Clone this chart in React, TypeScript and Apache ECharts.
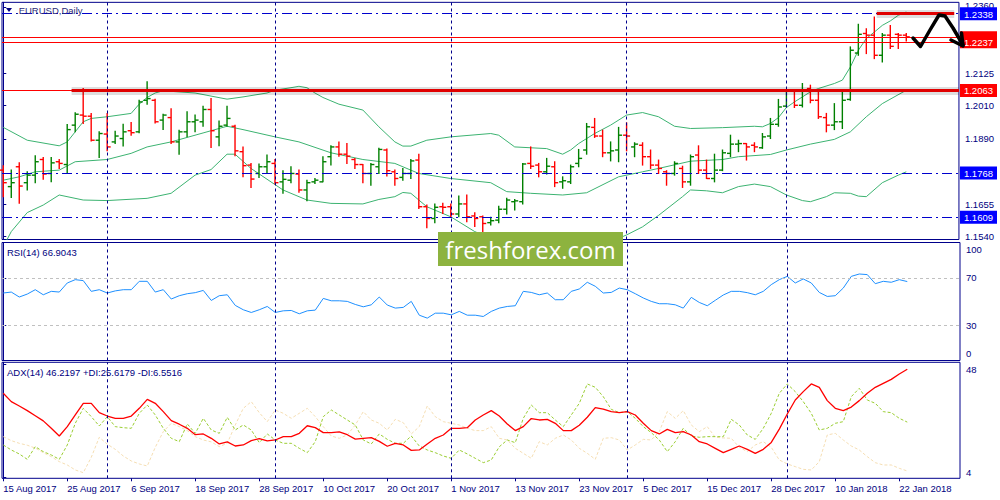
import React, { useEffect, useRef } from "react";
import * as echarts from "echarts";

// ---------- DATA ----------
const tickBars = [0, 8, 16, 24, 32, 40, 48, 56, 64, 72, 80, 88, 96, 104, 112];
const tickLabels = [
  "15 Aug 2017", "25 Aug 2017", "6 Sep 2017", "18 Sep 2017", "28 Sep 2017",
  "10 Oct 2017", "20 Oct 2017", "1 Nov 2017", "13 Nov 2017", "23 Nov 2017",
  "5 Dec 2017", "15 Dec 2017", "28 Dec 2017", "10 Jan 2018", "22 Jan 2018",
];
const monthBars = [13, 34, 56, 78, 98];

const opens = [
  1.1778, 1.1719, 1.1790, 1.1733, 1.1760, 1.1816, 1.1766, 1.1808, 1.1798, 1.1939,
  1.1975, 1.1971, 1.1885, 1.1907, 1.1879, 1.1891, 1.1919, 1.1915, 1.2028, 1.2028,
  1.1957, 1.1966, 1.1879, 1.1915, 1.1951, 1.1951, 1.1995, 1.1897, 1.1939, 1.1935,
  1.1844, 1.1796, 1.1766, 1.1790, 1.1802, 1.1736, 1.1742, 1.1764, 1.1707, 1.1736,
  1.1736, 1.1826, 1.1861, 1.1835, 1.1816, 1.1798, 1.1766, 1.1790, 1.1850, 1.1772,
  1.1752, 1.1766, 1.1814, 1.1647, 1.1605, 1.1647, 1.1647, 1.1621, 1.1657, 1.1614,
  1.1611, 1.1590, 1.1599, 1.1638, 1.1665, 1.1665, 1.1802, 1.1796, 1.1772, 1.1790,
  1.1736, 1.1736, 1.1802, 1.1850, 1.1931, 1.1900, 1.1840, 1.1850, 1.1903, 1.1861,
  1.1867, 1.1826, 1.1796, 1.1772, 1.1766, 1.1784, 1.1736, 1.1832, 1.1778, 1.1748,
  1.1778, 1.1838, 1.1871, 1.1873, 1.1867, 1.1858, 1.1900, 1.1942, 1.2007, 1.2062,
  1.2010, 1.2070, 1.2028, 1.1966, 1.1939, 1.1951, 1.2031, 1.2197, 1.2267, 1.2261,
  1.2189, 1.2261, 1.2264, 1.2261,
];
const highs = [
  1.1794, 1.1778, 1.1804, 1.1772, 1.1829, 1.1823, 1.1823, 1.1816, 1.1941, 1.1983,
  1.2070, 1.1981, 1.1915, 1.1981, 1.1917, 1.1942, 1.1948, 1.2028, 1.2094, 1.2032,
  1.1978, 1.1998, 1.1921, 1.1987, 1.1975, 1.2007, 1.2034, 1.1954, 1.2007, 1.1939,
  1.1861, 1.1802, 1.1800, 1.1832, 1.1816, 1.1776, 1.1790, 1.1778, 1.1742, 1.1748,
  1.1826, 1.1865, 1.1879, 1.1873, 1.1820, 1.1798, 1.1802, 1.1856, 1.1854, 1.1778,
  1.1784, 1.1816, 1.1835, 1.1653, 1.1657, 1.1659, 1.1657, 1.1685, 1.1689, 1.1625,
  1.1614, 1.1609, 1.1649, 1.1677, 1.1673, 1.1802, 1.1861, 1.1802, 1.1820, 1.1808,
  1.1754, 1.1796, 1.1852, 1.1945, 1.1963, 1.1921, 1.1879, 1.1931, 1.1947, 1.1876,
  1.1876, 1.1850, 1.1814, 1.1776, 1.1808, 1.1792, 1.1832, 1.1865, 1.1814, 1.1835,
  1.1850, 1.1903, 1.1885, 1.1873, 1.1876, 1.1909, 1.1963, 1.2031, 1.2066, 1.2064,
  1.2088, 1.2082, 1.2058, 1.1981, 1.2016, 1.2062, 1.2219, 1.2300, 1.2284, 1.2326,
  1.2267, 1.2296, 1.2267, 1.2267,
];
const lows = [
  1.1683, 1.1680, 1.1659, 1.1707, 1.1733, 1.1745, 1.1736, 1.1784, 1.1769, 1.1915,
  1.1945, 1.1882, 1.1823, 1.1847, 1.1873, 1.1864, 1.1903, 1.1912, 1.2014, 1.1947,
  1.1923, 1.1873, 1.1835, 1.1897, 1.1915, 1.1935, 1.1859, 1.1865, 1.1935, 1.1829,
  1.1754, 1.1716, 1.1752, 1.1769, 1.1728, 1.1695, 1.1733, 1.1699, 1.1668, 1.1730,
  1.1736, 1.1796, 1.1828, 1.1802, 1.1784, 1.1733, 1.1724, 1.1766, 1.1757, 1.1724,
  1.1742, 1.1748, 1.1641, 1.1572, 1.1590, 1.1623, 1.1611, 1.1611, 1.1593, 1.1576,
  1.1558, 1.1582, 1.1590, 1.1621, 1.1635, 1.1657, 1.1784, 1.1754, 1.1764, 1.1719,
  1.1713, 1.1730, 1.1790, 1.1835, 1.1895, 1.1826, 1.1811, 1.1808, 1.1847, 1.1826,
  1.1796, 1.1784, 1.1766, 1.1724, 1.1760, 1.1716, 1.1724, 1.1766, 1.1748, 1.1736,
  1.1776, 1.1826, 1.1844, 1.1814, 1.1844, 1.1856, 1.1891, 1.1935, 1.2004, 1.2002,
  1.2004, 1.2019, 1.1963, 1.1915, 1.1923, 1.1927, 1.2028, 1.2189, 1.2195, 1.2177,
  1.2165, 1.2213, 1.2213, 1.2240,
];
const closes = [
  1.1733, 1.1733, 1.1721, 1.1760, 1.1808, 1.1764, 1.1804, 1.1802, 1.1923, 1.1978,
  1.1971, 1.1885, 1.1909, 1.1861, 1.1900, 1.1915, 1.1912, 1.2022, 1.2034, 1.1951,
  1.1975, 1.1879, 1.1915, 1.1951, 1.1957, 1.1995, 1.1919, 1.1935, 1.1963, 1.1847,
  1.1794, 1.1746, 1.1790, 1.1808, 1.1733, 1.1745, 1.1766, 1.1707, 1.1733, 1.1742,
  1.1808, 1.1861, 1.1835, 1.1828, 1.1798, 1.1766, 1.1798, 1.1852, 1.1776, 1.1748,
  1.1766, 1.1811, 1.1647, 1.1605, 1.1645, 1.1645, 1.1621, 1.1657, 1.1611, 1.1605,
  1.1587, 1.1597, 1.1638, 1.1671, 1.1668, 1.1800, 1.1792, 1.1772, 1.1792, 1.1733,
  1.1740, 1.1790, 1.1820, 1.1933, 1.1900, 1.1840, 1.1847, 1.1903, 1.1900, 1.1871,
  1.1826, 1.1796, 1.1784, 1.1766, 1.1802, 1.1736, 1.1826, 1.1778, 1.1748, 1.1778,
  1.1840, 1.1871, 1.1873, 1.1861, 1.1861, 1.1897, 1.1942, 1.2004, 1.2062, 1.2010,
  1.2064, 1.2028, 1.1969, 1.1939, 1.1951, 1.2028, 1.2207, 1.2264, 1.2261, 1.2189,
  1.2261, 1.2221, 1.2261, 1.2255,
];

// Bollinger bands (20), sampled [bar, price]
const bbUpper = [
  [0, 1.1931], [3, 1.1885], [7, 1.1865], [8, 1.1879], [9, 1.1915], [10, 1.1951],
  [11, 1.1963], [13, 1.1969], [16, 1.1981], [17, 1.2014], [18, 1.2038], [19, 1.2054],
  [20, 1.2062], [24, 1.2054], [28, 1.2032], [30, 1.2040], [33, 1.2054], [34, 1.2064],
  [36, 1.2073], [37, 1.2078], [38, 1.2073], [39, 1.2054], [40, 1.2038], [41, 1.2026],
  [42, 1.2014], [45, 1.1993], [47, 1.1933], [49, 1.1879], [50, 1.1864], [51, 1.1864],
  [53, 1.1885], [56, 1.1897], [61, 1.1909], [62, 1.1903], [64, 1.1861], [68, 1.1855],
  [70, 1.1835], [71, 1.1850], [72, 1.1873], [74, 1.1909], [76, 1.1939], [78, 1.1975],
  [80, 1.1984], [82, 1.1969], [84, 1.1935], [86, 1.1927], [90, 1.1930], [94, 1.1935],
  [95, 1.1933], [96, 1.1945], [97, 1.1966], [98, 1.2002], [99, 1.2022], [100, 1.2040],
  [101, 1.2058], [102, 1.2070], [104, 1.2088], [105, 1.2100], [106, 1.2147],
  [107, 1.2207], [108, 1.2249], [109, 1.2272], [110, 1.2296], [111, 1.2312],
  [112, 1.2332], [113, 1.2344],
];
const bbMiddle = [
  [0, 1.1742], [2, 1.1754], [4, 1.1772], [7, 1.1778], [9, 1.1808], [13, 1.1816],
  [16, 1.1838], [18, 1.1861], [21, 1.1879], [25, 1.1911], [28, 1.1935], [30, 1.1923],
  [34, 1.1897], [37, 1.1879], [41, 1.1840], [45, 1.1816], [49, 1.1802], [52, 1.1766],
  [56, 1.1748], [61, 1.1733], [63, 1.1701], [66, 1.1695], [70, 1.1689], [73, 1.1697],
  [77, 1.1754], [80, 1.1772], [82, 1.1784], [86, 1.1810], [90, 1.1816], [92, 1.1826],
  [96, 1.1834], [98, 1.1850], [101, 1.1871], [104, 1.1888], [106, 1.1915],
  [108, 1.1969], [110, 1.2016], [113, 1.2064],
];
const bbLower = [
  [0, 1.1504], [1, 1.1558], [3, 1.1626], [5, 1.1653], [7, 1.1689], [10, 1.1671],
  [13, 1.1669], [18, 1.1677], [21, 1.1695], [24, 1.1760], [26, 1.1780], [28, 1.1835],
  [29, 1.1835], [31, 1.1784], [35, 1.1707], [38, 1.1671], [41, 1.1659], [45, 1.1657],
  [47, 1.1673], [49, 1.1683], [50, 1.1698], [51, 1.1695], [53, 1.1647], [56, 1.1611],
  [59, 1.1558], [60, 1.1546], [77, 1.1534], [78, 1.1546], [80, 1.1575], [82, 1.1616],
  [85, 1.1683], [86, 1.1707], [88, 1.1704], [90, 1.1697], [92, 1.1719], [94, 1.1728],
  [96, 1.1719], [98, 1.1689], [100, 1.1669], [101, 1.1665], [103, 1.1683],
  [104, 1.1697], [106, 1.1695], [107, 1.1685], [108, 1.1683], [110, 1.1733],
  [112, 1.1760], [113, 1.1772],
];

const rsi = [
  57.2, 58.0, 53.8, 56.3, 60.0, 55.7, 58.6, 58.0, 65.7, 68.5,
  67.7, 58.6, 60.0, 57.2, 59.0, 60.0, 60.0, 67.1, 67.1, 58.0,
  60.0, 52.1, 54.9, 56.6, 57.5, 59.4, 50.9, 54.9, 55.7, 46.7,
  43.0, 40.7, 43.0, 45.8, 40.7, 42.1, 42.4, 39.6, 42.1, 42.7,
  52.6, 50.6, 50.6, 50.1, 47.5, 45.5, 47.2, 53.8, 47.0, 44.4,
  45.0, 50.1, 38.4, 35.9, 40.1, 40.1, 38.7, 41.6, 38.4, 38.4,
  37.3, 41.6, 44.4, 45.8, 46.4, 58.6, 57.7, 55.7, 57.2, 51.5,
  51.5, 58.6, 60.6, 66.3, 62.9, 57.2, 57.7, 61.4, 60.0, 56.6,
  53.0, 50.1, 48.1, 48.1, 47.2, 44.4, 53.5, 49.2, 46.4, 51.0,
  55.5, 58.6, 58.6, 57.5, 55.7, 58.6, 64.3, 68.5, 71.3, 65.7,
  69.1, 65.7, 57.7, 54.3, 54.9, 61.4, 71.3, 73.3, 72.8, 65.1,
  67.1, 66.3, 68.5, 66.9043,
];
const adx = [
  36.85, 33.6, 31.9, 30.1, 28.1, 26.1, 23.2, 20.2, 23.85, 28.4,
  32.95, 32.95, 29.3, 28.0, 27.1, 27.1, 28.0, 31.0, 34.5, 32.95,
  29.7, 26.2, 24.8, 23.2, 20.7, 21.0, 19.3, 17.1, 17.9, 16.3,
  16.7, 18.4, 19.2, 18.3, 18.65, 19.95, 19.95, 21.25, 24.2, 23.45,
  21.5, 21.5, 21.8, 20.7, 19.0, 19.3, 19.6, 18.1, 16.2, 17.35,
  16.7, 14.6, 14.75, 17.1, 19.3, 20.6, 23.2, 23.2, 23.45, 26.45,
  28.4, 30.1, 28.0, 24.9, 22.3, 23.85, 27.0, 26.45, 26.7, 25.15,
  22.3, 22.3, 24.4, 27.5, 31.25, 30.7, 29.7, 29.3, 29.7, 28.4,
  25.15, 22.3, 21.0, 22.8, 21.5, 21.9, 20.6, 18.0, 17.1, 15.4,
  13.7, 15.0, 16.3, 15.0, 13.45, 15.0, 17.7, 22.9, 28.8, 34.25,
  37.5, 40.5, 39.2, 34.0, 31.0, 30.1, 31.5, 34.0, 36.85, 39.2,
  40.75, 42.3, 44.4, 46.2197,
];
const plusDI = [
  16.7, 14.75, 13.2, 11.1, 16.05, 14.1, 12.8, 11.1, 16.7, 25.15,
  31.0, 27.75, 24.1, 27.75, 23.85, 23.45, 23.2, 29.05, 32.3, 28.4,
  23.2, 19.3, 18.0, 24.9, 21.25, 27.1, 22.55, 21.25, 27.5, 22.55,
  24.5, 22.55, 17.6, 21.0, 18.65, 17.35, 17.35, 15.4, 13.7, 18.0,
  27.75, 30.35, 28.4, 26.45, 24.5, 18.65, 17.1, 21.0, 18.9, 17.35,
  17.35, 20.2, 16.3, 14.75, 13.7, 12.4, 11.5, 14.75, 13.2, 11.5,
  9.8, 10.85, 16.0, 18.65, 17.6, 27.1, 32.3, 29.3, 29.3, 26.45,
  23.85, 28.4, 32.95, 40.5, 39.2, 35.55, 30.6, 29.3, 29.7, 27.1,
  23.85, 21.5, 18.65, 14.1, 18.0, 23.2, 20.2, 19.7, 19.95, 19.95,
  19.95, 26.7, 24.5, 20.6, 18.9, 23.2, 29.05, 36.85, 40.5, 37.5,
  33.6, 29.05, 22.55, 23.2, 25.15, 25.8, 35.55, 38.8, 34.25, 32.95,
  29.7, 29.3, 27.1, 25.6179,
];
const minusDI = [
  19.95, 18.4, 17.35, 16.6, 15.5, 13.7, 12.15, 10.2, 8.9, 6.95,
  5.9, 11.9, 19.7, 17.0, 15.0, 12.4, 10.45, 9.3, 8.5, 15.8,
  21.9, 25.15, 23.85, 22.3, 19.95, 18.65, 17.9, 16.05, 17.35, 24.5,
  31.0, 33.6, 29.3, 25.8, 30.35, 29.05, 27.1, 29.05, 31.0, 27.75,
  23.85, 20.2, 19.3, 20.6, 24.5, 29.7, 26.45, 25.15, 22.55, 26.7,
  25.4, 21.0, 23.85, 31.9, 27.75, 25.8, 25.15, 24.5, 23.2, 22.3,
  22.3, 23.85, 19.3, 18.65, 15.4, 13.45, 11.5, 18.0, 16.7, 19.3,
  20.6, 18.65, 15.4, 13.45, 11.1, 19.3, 19.55, 18.65, 14.75, 16.7,
  18.9, 18.65, 21.9, 29.7, 27.1, 30.1, 24.5, 21.9, 23.85, 19.7,
  19.45, 19.3, 15.8, 14.1, 16.7, 18.0, 15.8, 10.85, 9.3, 8.25,
  7.2, 6.95, 10.2, 20.6, 21.25, 18.65, 16.3, 14.75, 12.15, 9.8,
  8.9, 8.9, 7.6, 6.5516,
];

const priceTicks = [1.236, 1.2125, 1.201, 1.189, 1.1655, 1.154];
const levelValues = [1.2338, 1.2252, 1.2237, 1.2063, 1.1768, 1.1609];
const levelKinds = ["b", "r", "r", "r", "b", "b"];
const rsiTicks = [0, 30, 70, 100];
const rsiLevels = [70, 30];
const adxTicks = [4, 48];
// trend-line anchors [fromBar, toBar, price]
const trendLines = [
  [8.55, 119.59, 1.2063],
  [109.3, 119.0, 1.2338],
];

// ---------- STYLE ----------
const NAVY = "#00008B";
const TXT = "#000080";
const FONT = "Liberation Sans";
const FS = 9.5;
const UP = "#008000";
const DOWN = "#FF0000";
const X_MIN = -0.16;
const X_MAX = 119.59;

const monthLineStyle = { color: NAVY, type: [3, 3] as any, width: 1 };
const thickRed = { color: "#E00000", width: 3, type: "solid" };
const glow = { color: "rgba(0,0,0,0.13)", width: 8, type: "solid" };
const dashDotBlue = { color: "#0000CD", width: 1, type: [10, 4, 2, 4] };
const thinRed = { color: "#FF0000", width: 1, type: "solid" };

function buildOption(): any {
  const ohlc = opens.map((o, i) => [i, o, highs[i], lows[i], closes[i]]);
  const xAxisBase = {
    type: "value",
    min: X_MIN,
    max: X_MAX,
    splitLine: { show: false },
  };
  const labelStyle = { color: TXT, fontFamily: FONT, fontSize: FS };
  const trendPairs: any[] = [];
  trendLines.forEach(([a, b, p]) => {
    trendPairs.push([{ coord: [a, p], lineStyle: glow }, { coord: [b, p], lineStyle: glow }]);
  });
  trendLines.forEach(([a, b, p]) => {
    trendPairs.push([{ coord: [a, p], lineStyle: thickRed }, { coord: [b, p], lineStyle: thickRed }]);
  });

  return {
    animation: false,
    backgroundColor: "#ffffff",
    textStyle: { fontFamily: FONT, fontSize: FS },
    grid: [
      { left: 2, top: 2, width: 958, height: 237.5, show: true, borderColor: NAVY, borderWidth: 1 },
      { left: 2, top: 242.5, width: 958, height: 118, show: true, borderColor: NAVY, borderWidth: 1 },
      { left: 2, top: 362.3, width: 958, height: 116, show: true, borderColor: NAVY, borderWidth: 1 },
    ],
    xAxis: [
      { ...xAxisBase, gridIndex: 0, show: false },
      { ...xAxisBase, gridIndex: 1, show: false },
      {
        ...xAxisBase,
        gridIndex: 2,
        axisLine: { show: false },
        axisTick: { show: true, customValues: tickBars, length: 3, lineStyle: { color: NAVY } },
        axisLabel: {
          ...labelStyle,
          customValues: tickBars,
          align: "left",
          margin: 5,
          formatter: (v: number) => {
            const k = tickBars.indexOf(Math.round(v));
            return k >= 0 ? tickLabels[k] : "";
          },
        },
      },
    ],
    yAxis: [
      {
        type: "value",
        gridIndex: 0,
        position: "right",
        min: 1.15297,
        max: 1.23785,
        splitLine: { show: false },
        axisLine: { show: true, lineStyle: { color: NAVY } },
        axisTick: { show: true, customValues: priceTicks, length: 3, lineStyle: { color: NAVY } },
        axisLabel: {
          ...labelStyle,
          customValues: priceTicks,
          margin: 6,
          formatter: (v: number) => (Math.abs(v - 1.236) < 1e-6 ? "{hi|" + v.toFixed(4) + "}" : v.toFixed(4)),
          rich: { hi: { ...labelStyle, padding: [0, 0, 5, 0] } },
        },
      },
      {
        type: "value",
        gridIndex: 0,
        position: "right",
        min: 1.15297,
        max: 1.23785,
        splitLine: { show: false },
        axisLine: { show: false },
        axisTick: { show: false },
        axisLabel: {
          customValues: levelValues,
          margin: 1,
          formatter: (v: number) => {
            const k = levelValues.findIndex((lv) => Math.abs(lv - v) < 1e-6);
            const kind = k >= 0 ? levelKinds[k] : "b";
            return "{" + kind + "|" + v.toFixed(4) + "}";
          },
          rich: {
            b: { backgroundColor: "#0000FF", color: "#ffffff", fontFamily: FONT, fontSize: FS, padding: [2, 4, 1, 4] },
            r: { backgroundColor: "#FF0000", color: "#ffffff", fontFamily: FONT, fontSize: FS, padding: [2, 4, 1, 4] },
          },
        },
      },
      {
        type: "value",
        gridIndex: 1,
        position: "right",
        min: 0,
        max: 100,
        splitLine: { show: false },
        axisLine: { show: true, lineStyle: { color: NAVY } },
        axisTick: { show: true, customValues: rsiTicks, length: 3, lineStyle: { color: NAVY } },
        axisLabel: {
          ...labelStyle,
          customValues: rsiTicks,
          margin: 6,
          formatter: (v: number) => {
            const r = Math.round(v);
            if (r === 100) return "{t|100}";
            if (r === 0) return "{bo|0}";
            return String(r);
          },
          rich: {
            t: { ...labelStyle, padding: [13, 0, 0, 0] },
            bo: { ...labelStyle, padding: [0, 0, 15, 0] },
          },
        },
      },
      {
        type: "value",
        gridIndex: 2,
        position: "right",
        min: 3.7,
        max: 48.95,
        splitLine: { show: false },
        axisLine: { show: true, lineStyle: { color: NAVY } },
        axisTick: { show: true, customValues: adxTicks, length: 3, lineStyle: { color: NAVY } },
        axisLabel: {
          ...labelStyle,
          customValues: adxTicks,
          margin: 6,
          formatter: (v: number) => {
            const r = Math.round(v);
            return r === 48 ? "{t|48}" : "{bo|" + r + "}";
          },
          rich: {
            t: { ...labelStyle, padding: [9, 0, 0, 0] },
            bo: { ...labelStyle, padding: [0, 0, 10, 0] },
          },
        },
      },
    ],
    series: [
      {
        name: "BB upper",
        type: "line",
        xAxisIndex: 0,
        yAxisIndex: 0,
        data: bbUpper,
        symbol: "none",
        lineStyle: { color: "#3CB371", width: 1 },
        z: 1,
      },
      {
        name: "BB middle",
        type: "line",
        xAxisIndex: 0,
        yAxisIndex: 0,
        data: bbMiddle,
        symbol: "none",
        lineStyle: { color: "#3CB371", width: 1 },
        z: 1,
        markLine: {
          silent: true,
          precision: 6,
          symbol: ["none", "none"],
          label: { show: false },
          animation: false,
          data: [
            ...monthBars.map((b) => ({ xAxis: b, lineStyle: monthLineStyle })),
            { yAxis: 1.2338, lineStyle: dashDotBlue },
            { yAxis: 1.1768, lineStyle: dashDotBlue },
            { yAxis: 1.1609, lineStyle: dashDotBlue },
            { yAxis: 1.2252, lineStyle: thinRed },
            { yAxis: 1.2237, lineStyle: thinRed },
            { yAxis: 1.2063, lineStyle: thinRed },
            ...trendPairs,
          ],
        },
      },
      {
        name: "BB lower",
        type: "line",
        xAxisIndex: 0,
        yAxisIndex: 0,
        data: bbLower,
        symbol: "none",
        lineStyle: { color: "#3CB371", width: 1 },
        z: 1,
      },
      {
        name: "EURUSD",
        type: "custom",
        xAxisIndex: 0,
        yAxisIndex: 0,
        data: ohlc,
        encode: { x: 0, y: [1, 2, 3, 4] },
        z: 3,
        renderItem: (params: any, api: any) => {
          const i = api.value(0);
          const o = api.value(1);
          const h = api.value(2);
          const l = api.value(3);
          const c = api.value(4);
          const pH = api.coord([i, h]);
          const pL = api.coord([i, l]);
          const pO = api.coord([i, o]);
          const pC = api.coord([i, c]);
          const color = c >= o ? UP : DOWN;
          const x = pH[0];
          const st = { stroke: color, lineWidth: 1.4 };
          return {
            type: "group",
            children: [
              { type: "line", shape: { x1: x, y1: pH[1] - 0.5, x2: x, y2: pL[1] + 0.5 }, style: st },
              { type: "line", shape: { x1: x - 3.5, y1: pO[1], x2: x, y2: pO[1] }, style: st },
              { type: "line", shape: { x1: x, y1: pC[1], x2: x + 3.5, y2: pC[1] }, style: st },
            ],
          };
        },
      },
      {
        name: "RSI",
        type: "line",
        xAxisIndex: 1,
        yAxisIndex: 2,
        data: rsi.map((v, i) => [i, v]),
        symbol: "none",
        lineStyle: { color: "#1E90FF", width: 1 },
        markLine: {
          silent: true,
          precision: 6,
          symbol: ["none", "none"],
          label: { show: false },
          animation: false,
          data: [
            ...rsiLevels.map((v) => ({ yAxis: v, lineStyle: { color: "#C0C0C0", width: 1, type: [3, 3] } })),
            ...monthBars.map((b) => ({ xAxis: b, lineStyle: monthLineStyle })),
          ],
        },
      },
      {
        name: "-DI",
        type: "line",
        xAxisIndex: 2,
        yAxisIndex: 3,
        data: minusDI.map((v, i) => [i, v]),
        symbol: "none",
        lineStyle: { color: "#F5DEB3", width: 1, type: [3, 2] },
      },
      {
        name: "+DI",
        type: "line",
        xAxisIndex: 2,
        yAxisIndex: 3,
        data: plusDI.map((v, i) => [i, v]),
        symbol: "none",
        lineStyle: { color: "#9ACD32", width: 1, type: [3, 2] },
      },
      {
        name: "ADX",
        type: "line",
        xAxisIndex: 2,
        yAxisIndex: 3,
        data: adx.map((v, i) => [i, v]),
        symbol: "none",
        lineStyle: { color: "#FF0000", width: 1.3 },
        markLine: {
          silent: true,
          precision: 6,
          symbol: ["none", "none"],
          label: { show: false },
          animation: false,
          data: monthBars.map((b) => ({ xAxis: b, lineStyle: monthLineStyle })),
        },
      },
    ],
    graphic: [
      { type: "polygon", shape: { points: [[6, 8], [12, 8], [9, 12]] }, style: { fill: TXT }, z: 50 },
      {
        type: "text", x: 16, y: 10, z: 50,
        style: { text: ".EURUSD,Daily", fill: "#2a2a78", font: `${FS}px "${FONT}"`, verticalAlign: "middle" },
      },
      {
        type: "text", x: 7, y: 252, z: 50,
        style: { text: "RSI(14) 66.9043", fill: TXT, font: `${FS}px "${FONT}"`, verticalAlign: "middle" },
      },
      {
        type: "text", x: 7, y: 372, z: 50,
        style: {
          text: "ADX(14) 46.2197 +DI:25.6179 -DI:6.5516",
          fill: TXT, font: `${FS}px "${FONT}"`, verticalAlign: "middle",
        },
      },
      {
        type: "rect", z: 100,
        shape: { x: 438, y: 232, width: 185, height: 34 },
        style: { fill: "#8DB33F" },
      },
      {
        type: "text", x: 530.5, y: 249, z: 101,
        style: {
          text: "freshforex.com", fill: "#ffffff", font: '24px "Open Sans"',
          align: "center", verticalAlign: "middle",
        },
      },
      {
        type: "polyline", z: 100,
        shape: { points: [[913, 38], [920.5, 46.5], [930, 30], [939, 15], [945, 16], [953, 28], [963, 45]] },
        style: { stroke: "#000000", lineWidth: 3.5, lineJoin: "round", lineCap: "round", fill: "none" },
      },
      {
        type: "polyline", z: 100,
        shape: { points: [[951, 40], [963, 46], [961.5, 33]] },
        style: { stroke: "#000000", lineWidth: 3.5, lineJoin: "round", lineCap: "round", fill: "none" },
      },
    ],
  };
}

export default function App() {
  const ref = useRef<HTMLDivElement>(null);
  useEffect(() => {
    if (!ref.current) return;
    const chart = echarts.init(ref.current, null, { renderer: "svg" });
    chart.setOption(buildOption());
    return () => {
      chart.dispose();
    };
  }, []);
  return (
    <div
      ref={ref}
      style={{ position: "fixed", left: 0, top: 0, width: 1000, height: 500, background: "#ffffff" }}
    />
  );
}
